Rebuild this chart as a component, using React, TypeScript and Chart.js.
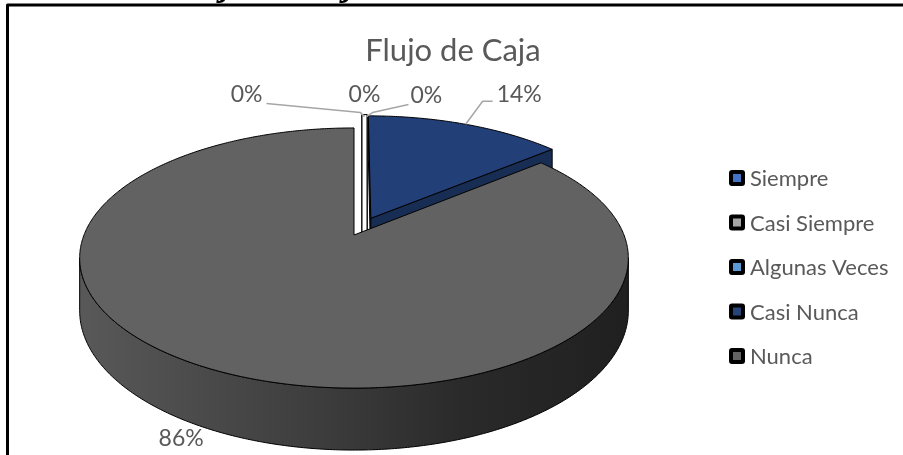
import React, { useEffect, useRef } from "react";
import { Chart, registerables } from "chart.js";

Chart.register(...registerables);

// ---------- data ----------
const categories = ["Siempre", "Casi Siempre", "Algunas Veces", "Casi Nunca", "Nunca"];
const percentages = [0, 0, 0, 14, 86];
const legendColors = ["#4472C4", "#A5A5A5", "#5B9BD5", "#264478", "#636363"];
const chartTitle = "Flujo de Caja";
const croppedCaption = "Flujo de Caja";

// ---------- style ----------
const FONT = "Lato, 'Open Sans', 'DejaVu Sans', sans-serif";
const TEXT = "#595959";
const LEADER = "#A6A6A6";
const GEO = { cx: 354, cy: 235, rx: 270, ry: 126, persp: 0.177, depth: 51 };
const explodeBy = [0.15, 0.15, 0.15, 0.15, 0];
const topColors = ["#4472C4", "#A5A5A5", "#5B9BD5", "#223F78", "#626262"];
const faceColors = ["#2F5597", "#7F7F7F", "#41719C", "#182D54", "#3A3A3A"];
const zeroStrip = { from: 8, to: 13 };
const LABEL_SIZE = 23;
const labelLayout = [
  { text: [-102, -20], align: "right", leader: [[-98, -11], [-4, -2], [0, 2]] },
  { text: [0, -20], align: "center", leader: [] },
  { text: [46, -19], align: "left", leader: [[44, -10], [8, -2], [2, 2]] },
  { text: [31, -30], align: "left", leader: [[0, 0], [17, -23], [27, -23]] },
  { text: [-36, 7], align: "center", leader: [] },
];
const LEGEND = { x: 729, y0: 178, step: 44.5, box: 16, inner: 8, gap: 5, size: 22 };
const TITLE = { x: 453, y: 61, size: 31 };

const pie3dPlugin = {
  id: "pie3d",
  beforeDraw(chart: any) {
    const ctx = chart.ctx;
    ctx.save();
    ctx.fillStyle = "#FFFFFF";
    ctx.fillRect(0, 0, chart.width, chart.height);
    ctx.restore();
  },
  afterDraw(chart: any) {
    const ctx: CanvasRenderingContext2D = chart.ctx;
    const meta = chart.getDatasetMeta(0);
    const values: number[] = chart.data.datasets[0].data;
    const total = values.reduce((a, b) => a + b, 0);
    const A = GEO.persp;
    const proj = (X: number, Z: number, h: number) => {
      const w = 1 / (1 - A * Z);
      return [GEO.cx + GEO.rx * X * w, GEO.cy + GEO.ry * Z * w + h * GEO.depth * w];
    };
    ctx.save();

    const slices = meta.data.map((el: any, i: number) => {
      const s = el.startAngle;
      const e = el.endAngle;
      const mid = (s + e) / 2;
      const ox = explodeBy[i] * Math.cos(mid);
      const oz = explodeBy[i] * Math.sin(mid);
      return { i, s, e, mid, ox, oz, key: oz + Math.sin(mid) };
    });
    const order = [...slices].sort((a, b) => a.key - b.key);

    const grad = ctx.createLinearGradient(GEO.cx - GEO.rx, 0, GEO.cx + GEO.rx, 0);
    grad.addColorStop(0, "#585858");
    grad.addColorStop(0.45, "#3C3C3C");
    grad.addColorStop(0.7, "#2A2A2A");
    grad.addColorStop(1, "#202020");

    ctx.lineWidth = 1;
    ctx.lineJoin = "round";
    ctx.strokeStyle = "#000000";
    const cam = [0, 1 / A];
    const anchors: number[][] = [];

    for (const sl of order) {
      const { s, e, ox, oz, i } = sl;
      if (e - s < 1e-6) {
        const p1 = proj(ox + Math.cos(s), oz + Math.sin(s), 0);
        const pb = proj(ox, oz, 1);
        ctx.beginPath();
        ctx.moveTo(p1[0] + zeroStrip.from, p1[1]);
        ctx.lineTo(p1[0] + zeroStrip.to, p1[1]);
        ctx.lineTo(pb[0] + zeroStrip.to, pb[1]);
        ctx.lineTo(pb[0] + zeroStrip.from, pb[1]);
        ctx.closePath();
        ctx.fillStyle = "#FFFFFF";
        ctx.fill();
        ctx.stroke();
        anchors[i] = [p1[0] + (zeroStrip.from + zeroStrip.to) / 2, p1[1]];
        continue;
      }
      // outer wall (visible part)
      const vis = (t: number) => Math.sin(t) / A - (ox * Math.cos(t) + oz * Math.sin(t)) - 1 > 0;
      const step = 0.005;
      let runStart: number | null = null;
      const ranges: number[][] = [];
      for (let t = s; t <= e + 1e-9; t += step) {
        const tt = Math.min(t, e);
        if (vis(tt)) {
          if (runStart === null) runStart = tt;
        } else if (runStart !== null) {
          ranges.push([runStart, tt]);
          runStart = null;
        }
      }
      if (runStart !== null) ranges.push([runStart, e]);
      for (const [t1, t2] of ranges) {
        const n = Math.max(2, Math.ceil((t2 - t1) / 0.01));
        ctx.beginPath();
        for (let k = 0; k <= n; k++) {
          const t = t1 + ((t2 - t1) * k) / n;
          const p = proj(ox + Math.cos(t), oz + Math.sin(t), 0);
          if (k === 0) ctx.moveTo(p[0], p[1]);
          else ctx.lineTo(p[0], p[1]);
        }
        for (let k = n; k >= 0; k--) {
          const t = t1 + ((t2 - t1) * k) / n;
          const p = proj(ox + Math.cos(t), oz + Math.sin(t), 1);
          ctx.lineTo(p[0], p[1]);
        }
        ctx.closePath();
        ctx.fillStyle = i === 4 ? grad : faceColors[i];
        ctx.fill();
        ctx.stroke();
      }
      // radial faces
      const faces = [
        { t: s, n: [Math.sin(s), -Math.cos(s)] },
        { t: e, n: [-Math.sin(e), Math.cos(e)] },
      ];
      for (const f of faces) {
        const px = ox + 0.5 * Math.cos(f.t);
        const pz = oz + 0.5 * Math.sin(f.t);
        const d = f.n[0] * (cam[0] - px) + f.n[1] * (cam[1] - pz);
        if (d <= 0.01) continue;
        const a0 = proj(ox, oz, 0);
        const a1 = proj(ox + Math.cos(f.t), oz + Math.sin(f.t), 0);
        const b1 = proj(ox + Math.cos(f.t), oz + Math.sin(f.t), 1);
        const b0 = proj(ox, oz, 1);
        ctx.beginPath();
        ctx.moveTo(a0[0], a0[1]);
        ctx.lineTo(a1[0], a1[1]);
        ctx.lineTo(b1[0], b1[1]);
        ctx.lineTo(b0[0], b0[1]);
        ctx.closePath();
        ctx.fillStyle = faceColors[i];
        ctx.fill();
        ctx.stroke();
      }
      // top face
      const n = Math.max(2, Math.ceil((e - s) / 0.01));
      ctx.beginPath();
      const p0 = proj(ox, oz, 0);
      ctx.moveTo(p0[0], p0[1]);
      for (let k = 0; k <= n; k++) {
        const t = s + ((e - s) * k) / n;
        const p = proj(ox + Math.cos(t), oz + Math.sin(t), 0);
        ctx.lineTo(p[0], p[1]);
      }
      ctx.closePath();
      ctx.fillStyle = topColors[i];
      ctx.fill();
      ctx.stroke();
      anchors[i] =
        explodeBy[i] > 0
          ? proj(ox + Math.cos(sl.mid), oz + Math.sin(sl.mid), 0)
          : proj(ox + Math.cos(sl.mid), oz + Math.sin(sl.mid), 1);
    }

    // data labels
    ctx.font = `${LABEL_SIZE}px ${FONT}`;
    ctx.textBaseline = "middle";
    slices.forEach((sl: any) => {
      const i = sl.i;
      const lay = labelLayout[i];
      const an = anchors[i];
      if (lay.leader.length > 1) {
        ctx.beginPath();
        ctx.strokeStyle = LEADER;
        ctx.lineWidth = 1.5;
        lay.leader.forEach((pt: number[], k: number) => {
          const x = an[0] + pt[0];
          const y = an[1] + pt[1];
          if (k === 0) ctx.moveTo(x, y);
          else ctx.lineTo(x, y);
        });
        ctx.stroke();
      }
      ctx.fillStyle = TEXT;
      ctx.textAlign = lay.align as CanvasTextAlign;
      const pct = total ? Math.round((values[i] / total) * 100) : 0;
      ctx.fillText(`${pct}%`, an[0] + lay.text[0], an[1] + lay.text[1]);
    });

    // title
    ctx.font = `${TITLE.size}px ${FONT}`;
    ctx.textAlign = "center";
    ctx.textBaseline = "alphabetic";
    ctx.fillStyle = TEXT;
    ctx.fillText(chartTitle, TITLE.x, TITLE.y);

    // legend
    ctx.textAlign = "left";
    ctx.textBaseline = "middle";
    ctx.font = `${LEGEND.size}px ${FONT}`;
    (chart.data.labels as string[]).forEach((lab, i) => {
      const y = LEGEND.y0 + i * LEGEND.step;
      ctx.fillStyle = "#000000";
      ctx.beginPath();
      (ctx as any).roundRect(LEGEND.x, y - LEGEND.box / 2, LEGEND.box, LEGEND.box, 3);
      ctx.fill();
      ctx.fillStyle = legendColors[i];
      ctx.fillRect(LEGEND.x + (LEGEND.box - LEGEND.inner) / 2, y - LEGEND.inner / 2, LEGEND.inner, LEGEND.inner);
      ctx.fillStyle = TEXT;
      ctx.fillText(lab, LEGEND.x + LEGEND.box + LEGEND.gap, y + 1);
    });

    // cropped caption above the frame
    ctx.fillStyle = "#000000";
    ctx.textAlign = "left";
    ctx.textBaseline = "alphabetic";
    ctx.font = `bold italic 36px 'Liberation Serif', serif`;
    const refW = ctx.measureText("jo de Ca").width;
    const fs = (36 * 123) / refW;
    ctx.font = `bold italic ${fs}px 'Liberation Serif', serif`;
    const x0 = 222 - ctx.measureText("Flu").width - ctx.measureText("j").width * 0.1;
    ctx.fillText(croppedCaption, x0, 3 - 0.215 * fs);

    // frame
    ctx.strokeStyle = "#000000";
    ctx.lineWidth = 3;
    ctx.strokeRect(7.5, 5, 1200, 1200);
    ctx.restore();
  },
};

export default function App() {
  const ref = useRef<HTMLCanvasElement>(null);
  useEffect(() => {
    const chart = new Chart(ref.current as HTMLCanvasElement, {
      type: "pie",
      data: {
        labels: categories,
        datasets: [{ data: percentages, backgroundColor: "rgba(0,0,0,0)", borderWidth: 0 }],
      },
      options: {
        responsive: false,
        animation: false,
        devicePixelRatio: 1,
        events: [],
        plugins: { legend: { display: false }, tooltip: { enabled: false }, title: { display: false } },
      } as any,
      plugins: [pie3dPlugin as any],
    });
    return () => chart.destroy();
  }, []);
  return (
    <canvas
      ref={ref}
      width={903}
      height={455}
      style={{ position: "fixed", left: 0, top: 0, width: 903, height: 455, display: "block" }}
    />
  );
}
